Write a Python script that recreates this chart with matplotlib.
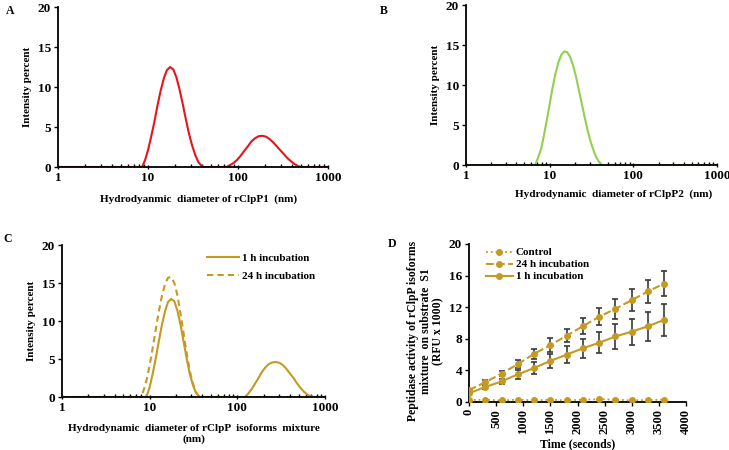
import matplotlib
matplotlib.use("Agg")
import matplotlib.pyplot as plt
from matplotlib.ticker import LogLocator, NullFormatter, FixedLocator

plt.rcParams["font.family"] = ["Liberation Serif", "DejaVu Serif"]
plt.rcParams["font.weight"] = "bold"
plt.rcParams["axes.labelweight"] = "bold"
plt.rcParams["font.size"] = 8

RED = "#e8141c"
GREEN = "#92d050"
GOLD = "#c49a22"
GREY = "#3a3a3a"

# Panel A - rClpP1 size distribution (nm, %)
a_d = [1, 8.6, 9.3, 10.0, 10.8, 11.7, 12.7, 13.8, 15.0, 16.2, 17.6, 19.1, 20.7, 22.4,
       24.3, 26.3, 28.5, 30.9, 33.5, 36.3, 39.4, 42,
       74, 81, 89, 98, 107, 117, 129, 141, 155, 170, 186, 204, 224, 245, 269, 295,
       324, 355, 389, 427, 468, 500, 1000]
a_i = [0, 0, 0.9, 2.1, 3.7, 5.5, 7.6, 9.5, 11.1, 12.1, 12.5, 12.2, 11.2, 9.7,
       7.9, 6.0, 4.2, 2.7, 1.5, 0.6, 0.15, 0,
       0, 0.2, 0.5, 0.9, 1.4, 2.0, 2.6, 3.2, 3.6, 3.85, 3.9, 3.8, 3.5, 3.1, 2.6, 2.1,
       1.6, 1.1, 0.7, 0.35, 0.1, 0, 0]

# Panel B - rClpP2 size distribution
b_d = [1, 6.7, 7.2, 7.9, 8.5, 9.2, 10.0, 10.8, 11.7, 12.7, 13.8, 15.0, 16.2, 17.6,
       19.1, 20.7, 22.4, 24.3, 26.3, 28.5, 30.9, 33.5, 36.3, 39.4, 42.5, 1000]
b_i = [0, 0, 0.8, 2.0, 3.6, 5.5, 7.6, 9.6, 11.4, 12.8, 13.8, 14.2, 14.1, 13.5,
       12.4, 11.0, 9.3, 7.6, 5.9, 4.3, 2.9, 1.8, 0.9, 0.3, 0, 0]

# Panel C - isoform mixture, 1 h incubation
c1_d = [1, 9.2, 10.0, 10.8, 11.7, 12.7, 13.8, 15.0, 16.2, 17.6, 19.1, 20.7, 22.4,
        24.3, 26.3, 28.5, 30.9, 33.5, 37,
        122, 132, 145, 158, 174, 191, 209, 229, 251, 275, 302, 331, 363, 398, 437,
        479, 525, 575, 631, 692, 760, 1000]
c1_i = [0, 0, 1.3, 3.0, 5.0, 7.3, 9.5, 11.3, 12.5, 12.9, 12.6, 11.4, 9.6,
        7.4, 5.2, 3.2, 1.7, 0.6, 0,
        0, 0.4, 1.0, 1.7, 2.5, 3.3, 3.9, 4.35, 4.55, 4.6, 4.5, 4.2, 3.7, 3.1, 2.5,
        1.8, 1.2, 0.7, 0.3, 0.1, 0, 0]

# Panel C - isoform mixture, 24 h incubation
c24_d = [1, 8.0, 8.6, 9.3, 10.0, 10.8, 11.7, 12.7, 13.8, 15.0, 16.2, 17.6, 19.1,
         20.7, 22.4, 24.3, 26.3, 28.5, 30.9, 33.5, 37, 1000]
c24_i = [0, 0, 1.0, 2.4, 4.2, 6.4, 8.8, 11.2, 13.3, 14.9, 15.7, 15.8, 15.0,
         13.4, 11.1, 8.5, 5.9, 3.6, 1.9, 0.7, 0, 0]

# Panel D - peptidase activity (RFU x 1000)
time_s = [0, 300, 600, 900, 1200, 1500, 1800, 2100, 2400, 2700, 3000, 3300, 3600]
control = [0.25, 0.3, 0.2, 0.3, 0.2, 0.3, 0.2, 0.3, 0.35, 0.3, 0.2, 0.25, 0.3]
inc24 = [1.5, 2.5, 3.6, 4.8, 6.1, 7.2, 8.4, 9.6, 10.8, 11.8, 12.9, 14.0, 15.0]
inc24_err = [0.2, 0.25, 0.3, 0.5, 0.65, 0.85, 0.8, 1.0, 1.1, 1.3, 1.4, 1.5, 1.55]
inc1 = [1.1, 1.9, 2.6, 3.5, 4.3, 5.2, 6.0, 6.8, 7.5, 8.3, 8.9, 9.6, 10.4]
inc1_err = [0.2, 0.3, 0.35, 0.6, 0.75, 0.9, 1.05, 1.2, 1.35, 1.6, 1.65, 1.85, 2.05]

W, H = 729, 450


def box(l, r, t, b):
    return [l / W, 1 - b / H, (r - l) / W, (b - t) / H]


def style(ax):
    for s in ("top", "right"):
        ax.spines[s].set_visible(False)
    for s in ("left", "bottom"):
        ax.spines[s].set_linewidth(1.3)
    ax.tick_params(axis="both", which="major", length=3, width=1, pad=2, labelsize=9.5)


def log_axis(ax):
    ax.set_xscale("log")
    ax.set_xlim(1, 1000)
    ax.set_ylim(0, 20)
    ax.set_yticks([0, 5, 10, 15, 20])
    ax.xaxis.set_major_locator(FixedLocator([1, 10, 100, 1000]))
    ax.set_xticklabels(["1", "10", "100", "1000"])
    ax.xaxis.set_minor_locator(LogLocator(base=10, subs=range(2, 10)))
    ax.xaxis.set_minor_formatter(NullFormatter())
    ax.tick_params(axis="x", which="minor", direction="in", length=2.5, width=1)
    ax.tick_params(axis="x", which="major", direction="inout", length=5)
    ax.set_ylabel("Intensity percent", labelpad=4)
    style(ax)


fig = plt.figure(figsize=(W / 100, H / 100), dpi=100)

axA = fig.add_axes(box(58, 328, 7, 167))
axA.plot(a_d, a_i, color=RED, lw=1.5)
log_axis(axA)
axA.set_xlabel("Hydrodyanmic  diameter of rClpP1  (nm)")
axA.xaxis.set_label_coords(0.52, -0.17)

axB = fig.add_axes(box(466, 717, 5, 165))
axB.plot(b_d, b_i, color=GREEN, lw=1.5)
log_axis(axB)
axB.set_xlabel("Hydrodynamic  diameter of rClpP2  (nm)")
axB.xaxis.set_label_coords(0.59, -0.15)

axC = fig.add_axes(box(62, 325, 245, 397))
axC.plot(c1_d, c1_i, color=GOLD, lw=1.5, label="1 h incubation")
axC.plot(c24_d, c24_i, color=GOLD, lw=1.5, ls=(0, (3, 2)), label="24 h incubation")
log_axis(axC)
axC.set_xlabel("Hydrodynamic  diameter of rClpP  isoforms  mixture\n(nm)", labelpad=7)
axC.legend(loc="upper right", frameon=False, handlelength=2.8, handletextpad=0.3,
           labelspacing=0.7, bbox_to_anchor=(1.0, 1.01))

axD = fig.add_axes(box(469, 686, 244, 402))
axD.errorbar(time_s, inc24, yerr=inc24_err, fmt="none", ecolor=GREY, elinewidth=1.2,
             capsize=2.5, capthick=1.2, zorder=1)
axD.errorbar(time_s, inc1, yerr=inc1_err, fmt="none", ecolor=GREY, elinewidth=1.2,
             capsize=2.5, capthick=1.2, zorder=1)
axD.plot(time_s, control, color=GOLD, ls=":", lw=1.3, marker="o", ms=4, label="Control", zorder=3)
axD.plot(time_s, inc24, color=GOLD, ls="--", lw=1.5, marker="o", ms=4, label="24 h incubation", zorder=3)
axD.plot(time_s, inc1, color=GOLD, ls="-", lw=1.5, marker="o", ms=4, label="1 h incubation", zorder=3)
axD.set_xlim(0, 4000)
axD.set_ylim(0, 20)
axD.set_xticks(range(0, 4001, 500))
axD.set_yticks([0, 4, 8, 12, 16, 20])
style(axD)
axD.tick_params(axis="x", labelrotation=90, labelsize=9)
axD.set_xlabel("Time (seconds)", labelpad=3, fontsize=8.5)
axD.set_ylabel("Peptidase activity of rClpP isoforms\nmixture  on substrate  S1\n(RFU x 1000)",
               fontsize=8.5, linespacing=1.05)
axD.yaxis.set_label_coords(-0.115, 0.45)
axD.legend(loc="upper left", frameon=False, handlelength=2.5, handletextpad=0.2,
           labelspacing=0.2, fontsize=8, bbox_to_anchor=(0.03, 1.04))

for txt, x, y in (("A", 10, 11), ("B", 384, 11), ("C", 8, 239), ("D", 392, 244)):
    fig.text(x / W, 1 - y / H, txt, ha="center", va="center", fontsize=8.5, fontweight="bold")

fig.savefig("out.png", dpi=100)
